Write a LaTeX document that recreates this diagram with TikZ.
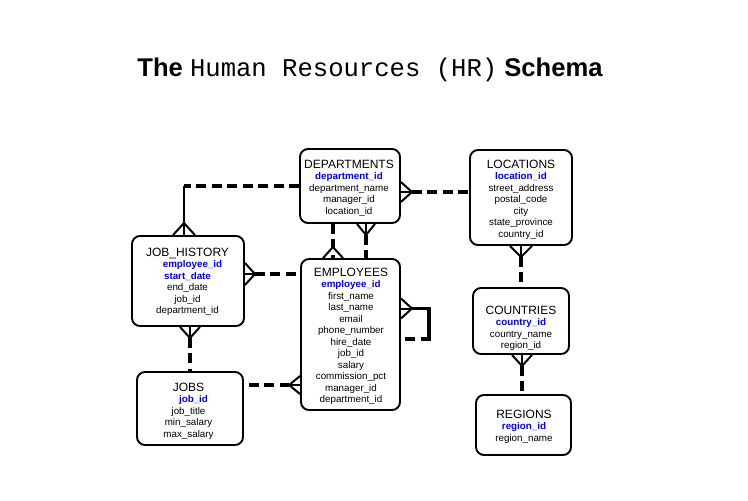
\documentclass[tikz,border=0pt]{standalone}
\usepackage{fontspec}
\setmainfont{Liberation Sans}
\newfontfamily\courierfont{Liberation Mono}
\usetikzlibrary{calc}

\definecolor{keyblue}{RGB}{0,0,235}

% primary-key field and the lines of an entity box
\newcommand\pk[1]{\textcolor{keyblue}{\bfseries #1}}
\newcommand\etitle[1]{{\fontsize{12}{11.5}\selectfont #1}}
\newcommand\fieldlist[1]{\fontsize{9.8}{11.5}\selectfont\begin{tabular}[t]{@{}c@{}}#1\end{tabular}}

\tikzset{
  entity/.style={draw, line width=1.9pt, rounded corners=8pt, inner sep=0pt},
  fields/.style={anchor=base, inner sep=0pt},
  prong/.style={line width=2pt},
  link/.style={line width=3.2pt, dash pattern=on 10pt off 5.5pt},
  thicklink/.style={line width=4.6pt, dash pattern=on 10pt off 5.5pt},
  solidlink/.style={line width=3.2pt},
}

\begin{document}
\begin{tikzpicture}[x=1pt, y=-1pt]
\useasboundingbox (0,0) rectangle (748,501);

% heading
\node[anchor=base, inner sep=0pt] (title) at (370,76)
  {\fontsize{25.6}{29}\selectfont\bfseries The {\courierfont\mdseries Human Resources (HR)} Schema};

% entity boxes
\node[entity, minimum width=100pt, minimum height=74pt]  (dept) at (350,186) {};
\node[entity, minimum width=102pt, minimum height=95pt]  (loc)  at (521,197.5) {};
\node[entity, minimum width=112pt, minimum height=90pt]  (jh)   at (188,281) {};
\node[entity, minimum width=99pt,  minimum height=151pt] (emp)  at (350.5,334.5) {};
\node[entity, minimum width=106pt, minimum height=73pt]  (jobs) at (190,408.5) {};
\node[entity, minimum width=96pt,  minimum height=66pt]  (ctry) at (521,321) {};
\node[entity, minimum width=95pt,  minimum height=60pt]  (reg)  at (523.5,425) {};

% entity contents
\node[fields] (deptT) at (349,168) {\fieldlist{\etitle{DEPARTMENTS}\\ \pk{department\_id}\\ department\_name\\ manager\_id\\ location\_id}};
\node[fields] (locT) at (521,168) {\fieldlist{\etitle{LOCATIONS}\\ \pk{location\_id}\\ street\_address\\ postal\_code\\ city\\ state\_province\\ country\_id}};
\node[fields] (jhT) at (187.5,256) {\fieldlist{\etitle{JOB\_HISTORY}\\ \kern10pt\pk{employee\_id}\\ \pk{start\_date}\\ end\_date\\ job\_id\\ department\_id}};
\node[fields] (empT) at (351,276) {\fieldlist{\etitle{EMPLOYEES}\\ \pk{employee\_id}\\ first\_name\\ last\_name\\ email\\ phone\_number\\ hire\_date\\ job\_id\\ salary\\ commission\_pct\\ manager\_id\\ department\_id}};
\node[fields] (jobsT) at (188.5,391) {\fieldlist{\etitle{JOBS}\\ \kern10pt\pk{job\_id}\\ job\_title\\ min\_salary\\ max\_salary}};
\node[fields] (ctryT) at (521,314) {\fieldlist{\etitle{COUNTRIES}\\ \pk{country\_id}\\ country\_name\\ region\_id}};
\node[fields] (regT) at (524,418) {\fieldlist{\etitle{REGIONS}\\ \pk{region\_id}\\ region\_name}};

% DEPARTMENTS -> LOCATIONS
\coordinate (dlA) at ($(dept.east)+(11,6)$);
\draw[prong] ($(dept.east)+(0,-4)$) -- (dlA) -- ($(dept.east)+(0,16)$);
\draw[prong] ($(dept.east)+(0,6)$) -- (dlA);
\draw[link] (dlA) -- (loc.west |- dlA);

% EMPLOYEES -> DEPARTMENTS (department_id)
\coordinate (edA) at ($(emp.north)+(-17.5,-11)$);
\draw[prong] ($(emp.north)+(-27.5,0)$) -- (edA) -- ($(emp.north)+(-7.5,0)$);
\draw[thicklink] (dept.south -| edA) -- (emp.north -| edA);

% DEPARTMENTS -> EMPLOYEES (manager_id)
\coordinate (deA) at ($(dept.south)+(16,11)$);
\draw[prong] ($(dept.south)+(7,0)$) -- (deA) -- ($(dept.south)+(25,0)$);
\draw[prong] (dept.south -| deA) -- (deA);
\draw[link] (deA) -- (emp.north -| deA);

% JOB_HISTORY -> DEPARTMENTS
\coordinate (jdA) at ($(jh.north)+(-4,-12)$);
\coordinate (jdC) at (jdA |- dept.west);
\draw[prong] ($(jh.north)+(-15,0)$) -- (jdA) -- ($(jh.north)+(7,0)$);
\draw[prong] (jh.north -| jdA) -- (jdA);
\draw[link] (dept.west) -- (jdC);
\draw[prong] (jdC) -- (jdA);

% JOB_HISTORY -> EMPLOYEES
\coordinate (jeA) at ($(jh.east)+(10,-7)$);
\draw[prong] ($(jh.east)+(0,-18)$) -- (jeA) -- ($(jh.east)+(0,4)$);
\draw[prong] (jh.east |- jeA) -- (jeA);
\draw[link] (jeA) -- (emp.west |- jeA);

% JOB_HISTORY -> JOBS
\coordinate (jjA) at ($(jh.south)+(2,11)$);
\draw[prong] ($(jh.south)+(-8,0)$) -- (jjA) -- ($(jh.south)+(12,0)$);
\draw[prong] (jh.south -| jjA) -- (jjA);
\draw[link] (jjA) -- (jobs.north -| jjA);

% EMPLOYEES -> JOBS
\coordinate (ejA) at ($(emp.west)+(-11,50.5)$);
\draw[prong] ($(emp.west)+(0,41.5)$) -- (ejA) -- ($(emp.west)+(0,59.5)$);
\draw[prong] (emp.west |- ejA) -- (ejA);
\draw[link, shorten <=5pt] (jobs.east |- ejA) -- (ejA);

% EMPLOYEES -> EMPLOYEES (manager_id)
\coordinate (eeA) at ($(emp.east)+(11,-26)$);
\coordinate (eeB) at ($(emp.east)+(28,-26)$);
\coordinate (eeC) at ($(emp.east)+(28,4.5)$);
\draw[prong] ($(emp.east)+(0,-36)$) -- (eeA) -- ($(emp.east)+(0,-16)$);
\draw[prong] (emp.east |- eeA) -- (eeA);
\draw[solidlink, line join=miter] (eeA) -- (eeB) -- ($(eeC)+(0,1.6)$);
\draw[link, dash phase=2pt] (eeC) -- (emp.east |- eeC);

% LOCATIONS -> COUNTRIES
\coordinate (lcA) at ($(loc.south)+(0,11)$);
\draw[prong] ($(loc.south)+(-11,0)$) -- (lcA) -- ($(loc.south)+(11,0)$);
\draw[prong] (loc.south) -- (lcA);
\draw[link] (lcA) -- (ctry.north -| lcA);

% COUNTRIES -> REGIONS
\coordinate (crA) at ($(ctry.south)+(1,11)$);
\draw[prong] ($(ctry.south)+(-9,0)$) -- (crA) -- ($(ctry.south)+(11,0)$);
\draw[prong] (ctry.south -| crA) -- (crA);
\draw[link] (crA) -- (reg.north -| crA);
\end{tikzpicture}
\end{document}
